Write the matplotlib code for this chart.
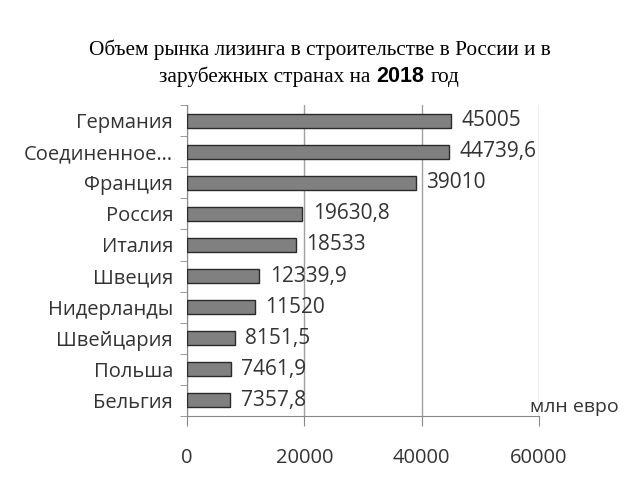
import matplotlib.pyplot as plt

# Data
countries = ['Германия', 'Соединенное…', 'Франция', 'Россия', 'Италия',
             'Швеция', 'Нидерланды', 'Швейцария', 'Польша', 'Бельгия']
values = [45005, 44739.6, 39010, 19630.8, 18533,
          12339.9, 11520, 8151.5, 7461.9, 7357.8]
value_labels = ['45005', '44739,6', '39010', '19630,8', '18533',
                '12339,9', '11520', '8151,5', '7461,9', '7357,8']
xticks = [0, 20000, 40000, 60000]

sans = 'Open Sans'
txt = '#333333'

fig = plt.figure(figsize=(6.4, 4.8), dpi=100)
ax = fig.add_axes([187 / 640, 1 - 416 / 480, (539 - 187) / 640, (416 - 105) / 480])

ypos = list(range(len(countries)))
ax.barh(ypos, values, height=0.45, color='#808080', edgecolor='#2a2a2a', linewidth=1, zorder=3)
ax.set_ylim(len(countries) - 0.5, -0.5)
ax.set_xlim(0, 60000)

for y, v, lab in zip(ypos, values, value_labels):
    ax.annotate(lab, xy=(v, y), xytext=(7.5, 0), textcoords='offset points',
                va='center', ha='left', fontsize=15, family=sans, color=txt)

ax.set_yticks(ypos)
ax.set_yticklabels(countries, fontsize=14.5, family=sans, color=txt)
ax.set_yticks([i + 0.5 for i in range(-1, len(countries))], minor=True)
ax.tick_params(axis='y', which='major', length=0, pad=10)
ax.tick_params(axis='y', which='minor', length=5, color='#888888')

ax.set_xticks(xticks)
ax.set_xticklabels([str(t) for t in xticks], fontsize=14.5, family=sans, color=txt)
ax.tick_params(axis='x', length=7, color='#888888', pad=16)

ax.grid(axis='x', color='#a0a0a0', linewidth=1, zorder=0)
for s in ['top', 'right']:
    ax.spines[s].set_visible(False)
for s in ['left', 'bottom']:
    ax.spines[s].set_color('#888888')

fig.text(530 / 640, 1 - 407 / 480, 'млн евро', fontsize=14, family=sans,
         color=txt, ha='left', va='center')

# Title: serif text with a bold sans "2018"
fig.text(0.5, 1 - 55 / 480, 'Объем рынка лизинга в строительстве в России и в',
         ha='center', va='baseline', fontsize=15.3, family='Liberation Serif')
y2 = 1 - 82 / 480
mid = fig.text(376 / 640, y2, '2018', ha='left', va='baseline', fontsize=15.5,
               family='Liberation Sans', fontweight='bold')
fig.canvas.draw()
bb = mid.get_window_extent()
fig.text(bb.x0 / 640 - 6 / 640, y2, 'зарубежных странах на', ha='right', va='baseline',
         fontsize=15.3, family='Liberation Serif')
fig.text(bb.x1 / 640 + 7 / 640, y2, 'год', ha='left', va='baseline',
         fontsize=15.3, family='Liberation Serif')

fig.savefig('out.png', dpi=100)
